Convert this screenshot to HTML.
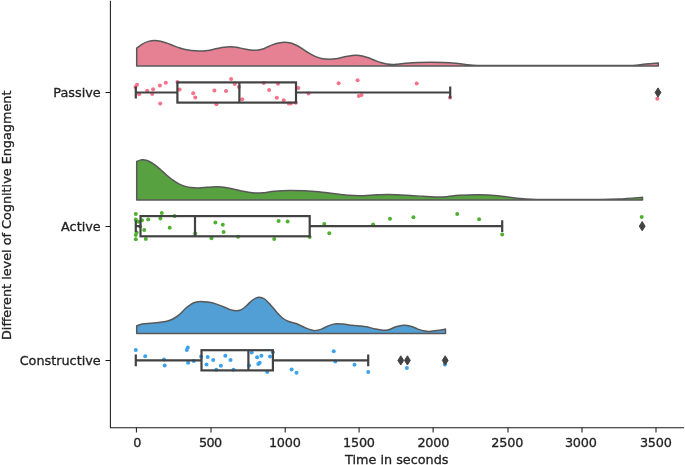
<!DOCTYPE html>
<html lang="en"><head><meta charset="utf-8"><title>Raincloud plot</title>
<style>html,body{margin:0;padding:0;background:#fff}body{width:685px;height:465px;overflow:hidden}svg{display:block}text{font-family:"DejaVu Sans","Liberation Sans",sans-serif;font-size:12.8px;fill:#222;stroke:#222;stroke-width:0.3px}</style></head><body>
<svg width="685" height="465" viewBox="0 0 685 465">
<rect width="685" height="465" fill="#fff"/>
<g id="plot">
<path d="M136.70,48.20 C137.63,47.52 140.35,45.23 142.30,44.10 C144.25,42.97 146.37,42.02 148.40,41.40 C150.43,40.78 152.45,40.43 154.50,40.40 C156.55,40.37 158.65,40.75 160.70,41.20 C162.75,41.65 164.77,42.38 166.80,43.10 C168.83,43.82 170.87,44.72 172.90,45.50 C174.93,46.28 176.95,47.12 179.00,47.80 C181.05,48.48 183.15,49.13 185.20,49.60 C187.25,50.07 188.92,50.37 191.30,50.60 C193.68,50.83 196.77,51.03 199.50,51.00 C202.23,50.97 204.98,50.77 207.70,50.40 C210.42,50.03 213.08,49.33 215.80,48.80 C218.52,48.27 221.62,47.53 224.00,47.20 C226.38,46.87 228.05,46.80 230.10,46.80 C232.15,46.80 233.90,46.83 236.30,47.20 C238.70,47.57 241.78,48.50 244.50,49.00 C247.22,49.50 250.57,50.00 252.60,50.20 C254.63,50.40 255.00,50.40 256.70,50.20 C258.40,50.00 261.23,49.43 262.80,49.00 C264.37,48.57 264.52,48.28 266.10,47.60 C267.68,46.92 270.25,45.65 272.30,44.90 C274.35,44.15 276.37,43.53 278.40,43.10 C280.43,42.67 282.45,42.30 284.50,42.30 C286.55,42.30 288.65,42.57 290.70,43.10 C292.75,43.63 294.77,44.48 296.80,45.50 C298.83,46.52 300.87,47.93 302.90,49.20 C304.93,50.47 306.95,51.90 309.00,53.10 C311.05,54.30 313.15,55.52 315.20,56.40 C317.25,57.28 318.92,57.93 321.30,58.40 C323.68,58.87 326.77,59.20 329.50,59.20 C332.23,59.20 334.98,58.83 337.70,58.40 C340.42,57.97 343.42,57.08 345.80,56.60 C348.18,56.12 350.28,55.72 352.00,55.50 C353.72,55.28 354.40,55.22 356.10,55.30 C357.80,55.38 360.17,55.58 362.20,56.00 C364.23,56.42 366.27,57.10 368.30,57.80 C370.33,58.50 372.35,59.42 374.40,60.20 C376.45,60.98 378.55,61.88 380.60,62.50 C382.65,63.12 384.67,63.57 386.70,63.90 C388.73,64.23 391.23,64.43 392.80,64.50 C394.37,64.57 393.85,64.50 396.10,64.30 C398.35,64.10 402.55,63.60 406.30,63.30 C410.05,63.00 414.50,62.68 418.60,62.50 C422.70,62.32 426.82,62.20 430.90,62.20 C434.98,62.20 439.02,62.32 443.10,62.50 C447.18,62.68 451.30,62.92 455.40,63.30 C459.50,63.68 463.95,64.43 467.70,64.80 C471.45,65.17 474.50,65.38 477.90,65.50 C481.30,65.62 481.08,65.50 488.10,65.50 C495.12,65.50 501.35,65.50 520.00,65.50 C538.65,65.50 583.33,65.50 600.00,65.50 C616.67,65.50 614.52,65.52 620.00,65.50 C625.48,65.48 628.60,65.65 632.90,65.40 C637.20,65.15 641.57,64.38 645.80,64.00 C650.03,63.62 656.22,63.25 658.30,63.10 L658.30,65.95 L136.70,65.95 Z" fill="#e68193" stroke="#585858" stroke-width="1.5" stroke-linejoin="round"/>
<g fill="#f77189"><circle cx="137.0" cy="84.7" r="2"/><circle cx="135.5" cy="87.0" r="2"/><circle cx="139.1" cy="94.2" r="2"/><circle cx="147.2" cy="90.7" r="2"/><circle cx="153.1" cy="89.2" r="2"/><circle cx="152.2" cy="93.9" r="2"/><circle cx="159.9" cy="85.4" r="2"/><circle cx="165.8" cy="82.7" r="2"/><circle cx="160.2" cy="103.4" r="2"/><circle cx="177.4" cy="81.9" r="2"/><circle cx="179.6" cy="89.4" r="2"/><circle cx="193.2" cy="93.2" r="2"/><circle cx="195.3" cy="97.5" r="2"/><circle cx="214.4" cy="90.4" r="2"/><circle cx="226.0" cy="91.1" r="2"/><circle cx="216.4" cy="104.3" r="2"/><circle cx="231.1" cy="79.0" r="2"/><circle cx="234.8" cy="84.0" r="2"/><circle cx="238.9" cy="86.9" r="2"/><circle cx="242.2" cy="99.3" r="2"/><circle cx="263.7" cy="82.9" r="2"/><circle cx="269.1" cy="90.0" r="2"/><circle cx="278.0" cy="83.7" r="2"/><circle cx="276.8" cy="97.8" r="2"/><circle cx="283.7" cy="100.3" r="2"/><circle cx="288.8" cy="103.4" r="2"/><circle cx="290.7" cy="103.4" r="2"/><circle cx="295.8" cy="102.7" r="2"/><circle cx="298.3" cy="87.9" r="2"/><circle cx="308.5" cy="93.6" r="2"/><circle cx="338.6" cy="83.2" r="2"/><circle cx="357.6" cy="80.2" r="2"/><circle cx="358.8" cy="95.9" r="2"/><circle cx="361.5" cy="95.1" r="2"/><circle cx="416.7" cy="83.6" r="2"/><circle cx="450.0" cy="97.5" r="2"/><circle cx="657.3" cy="98.7" r="2"/></g>
<g fill="none" stroke="#424242" stroke-width="2.2">
<path d="M135.8,92.5 H177.4 M296.0,92.5 H450.2"/>
<path d="M135.8,86.6 V98.4 M450.2,86.6 V98.4"/>
<rect x="177.4" y="82.4" width="118.6" height="20.2"/>
<path d="M239.4,82.4 V102.6"/>
</g>
<path d="M658.0,87.9 l2.9,4.6 l-2.9,4.6 l-2.9,-4.6 Z" fill="#424242" stroke="#424242" stroke-width="1" stroke-linejoin="round"/>
<path d="M136.70,161.55 C137.28,161.32 139.10,160.45 140.20,160.15 C141.30,159.85 141.93,159.62 143.30,159.75 C144.67,159.88 146.53,160.13 148.40,160.95 C150.27,161.77 152.45,163.18 154.50,164.65 C156.55,166.12 158.65,167.98 160.70,169.75 C162.75,171.52 164.77,173.52 166.80,175.25 C168.83,176.98 170.87,178.72 172.90,180.15 C174.93,181.58 176.95,182.82 179.00,183.85 C181.05,184.88 183.15,185.73 185.20,186.35 C187.25,186.97 189.27,187.28 191.30,187.55 C193.33,187.82 195.35,187.95 197.40,187.95 C199.45,187.95 201.22,187.72 203.60,187.55 C205.98,187.38 209.32,187.08 211.70,186.95 C214.08,186.82 215.85,186.72 217.90,186.75 C219.95,186.78 221.62,186.82 224.00,187.15 C226.38,187.48 229.47,188.17 232.20,188.75 C234.93,189.33 237.68,190.07 240.40,190.65 C243.12,191.23 245.78,191.85 248.50,192.25 C251.22,192.65 254.32,192.95 256.70,193.05 C259.08,193.15 259.82,193.13 262.80,192.85 C265.78,192.57 270.20,191.75 274.60,191.35 C279.00,190.95 284.33,190.55 289.20,190.45 C294.07,190.35 298.93,190.55 303.80,190.75 C308.67,190.95 313.53,191.20 318.40,191.65 C323.27,192.10 328.13,192.87 333.00,193.45 C337.87,194.03 343.22,194.77 347.60,195.15 C351.98,195.53 354.43,195.80 359.30,195.75 C364.17,195.70 371.93,195.05 376.80,194.85 C381.67,194.65 383.63,194.50 388.50,194.55 C393.37,194.60 400.17,194.85 406.00,195.15 C411.83,195.45 418.63,196.05 423.50,196.35 C428.37,196.65 431.30,196.90 435.20,196.95 C439.10,197.00 442.88,196.92 446.90,196.65 C450.92,196.38 454.03,195.67 459.30,195.35 C464.57,195.03 472.08,194.68 478.50,194.75 C484.92,194.82 491.37,195.17 497.80,195.75 C504.23,196.33 510.68,197.62 517.10,198.25 C523.52,198.88 530.42,199.29 536.30,199.50 C542.18,199.71 541.68,199.50 552.40,199.50 C563.12,199.50 589.37,199.59 600.60,199.50 C611.83,199.41 612.82,199.32 619.80,198.95 C626.78,198.57 638.72,197.53 642.50,197.25 L642.50,199.95 L136.70,199.95 Z" fill="#58a141" stroke="#585858" stroke-width="1.5" stroke-linejoin="round"/>
<g fill="#50b131"><circle cx="135.8" cy="214.1" r="2"/><circle cx="135.8" cy="219.6" r="2"/><circle cx="138.5" cy="221.8" r="2"/><circle cx="142.0" cy="220.3" r="2"/><circle cx="148.2" cy="219.6" r="2"/><circle cx="140.2" cy="226.6" r="2"/><circle cx="144.2" cy="230.1" r="2"/><circle cx="136.6" cy="232.4" r="2"/><circle cx="135.8" cy="234.9" r="2"/><circle cx="135.8" cy="239.3" r="2"/><circle cx="145.8" cy="238.9" r="2"/><circle cx="161.8" cy="213.0" r="2"/><circle cx="160.4" cy="218.6" r="2"/><circle cx="169.7" cy="227.8" r="2"/><circle cx="174.5" cy="216.0" r="2"/><circle cx="195.3" cy="233.5" r="2"/><circle cx="215.4" cy="222.5" r="2"/><circle cx="222.8" cy="224.7" r="2"/><circle cx="223.6" cy="232.0" r="2"/><circle cx="211.5" cy="238.3" r="2"/><circle cx="238.1" cy="236.8" r="2"/><circle cx="274.2" cy="238.9" r="2"/><circle cx="278.6" cy="220.9" r="2"/><circle cx="287.6" cy="221.6" r="2"/><circle cx="309.7" cy="237.1" r="2"/><circle cx="324.3" cy="224.0" r="2"/><circle cx="329.3" cy="233.3" r="2"/><circle cx="373.1" cy="224.6" r="2"/><circle cx="390.0" cy="218.7" r="2"/><circle cx="413.4" cy="217.3" r="2"/><circle cx="457.2" cy="214.1" r="2"/><circle cx="479.1" cy="219.3" r="2"/><circle cx="502.2" cy="234.5" r="2"/><circle cx="641.7" cy="217.0" r="2"/></g>
<g fill="none" stroke="#424242" stroke-width="2.2">
<path d="M135.8,226.2 H140.5 M309.7,226.2 H502.2"/>
<path d="M135.8,220.2 V232.1 M502.2,220.2 V232.1"/>
<rect x="140.5" y="216.1" width="169.2" height="20.2"/>
<path d="M195.0,216.1 V236.2"/>
</g>
<path d="M642.2,221.6 l2.9,4.6 l-2.9,4.6 l-2.9,-4.6 Z" fill="#424242" stroke="#424242" stroke-width="1" stroke-linejoin="round"/>
<path d="M136.70,325.80 C137.63,325.52 140.02,324.52 142.30,324.10 C144.58,323.68 147.68,323.57 150.40,323.30 C153.12,323.03 155.87,322.83 158.60,322.50 C161.33,322.17 164.42,321.88 166.80,321.30 C169.18,320.72 170.87,320.07 172.90,319.00 C174.93,317.93 176.95,316.60 179.00,314.90 C181.05,313.20 183.15,310.60 185.20,308.80 C187.25,307.00 189.60,305.18 191.30,304.10 C193.00,303.02 193.87,302.75 195.40,302.30 C196.93,301.85 198.45,301.43 200.50,301.40 C202.55,301.37 205.15,301.68 207.70,302.10 C210.25,302.52 213.08,303.08 215.80,303.90 C218.52,304.72 221.62,306.05 224.00,307.00 C226.38,307.95 228.05,308.97 230.10,309.60 C232.15,310.23 234.42,310.80 236.30,310.80 C238.18,310.80 239.70,310.45 241.40,309.60 C243.10,308.75 244.63,307.30 246.50,305.70 C248.37,304.10 250.55,301.42 252.60,300.00 C254.65,298.58 256.80,297.37 258.80,297.20 C260.80,297.03 262.60,297.67 264.60,299.00 C266.60,300.33 268.77,303.00 270.80,305.20 C272.83,307.40 274.85,310.07 276.80,312.20 C278.75,314.33 280.63,316.50 282.50,318.00 C284.37,319.50 285.63,320.23 288.00,321.20 C290.37,322.17 293.78,322.68 296.70,323.80 C299.62,324.92 303.07,326.87 305.50,327.90 C307.93,328.93 309.60,329.55 311.30,330.00 C313.00,330.45 314.00,330.75 315.70,330.60 C317.40,330.45 319.32,329.93 321.50,329.10 C323.68,328.27 326.37,326.48 328.80,325.60 C331.23,324.72 333.67,324.05 336.10,323.80 C338.53,323.55 340.72,323.85 343.40,324.10 C346.08,324.35 349.27,325.00 352.20,325.30 C355.13,325.60 358.57,325.65 361.00,325.90 C363.43,326.15 364.38,326.27 366.80,326.80 C369.22,327.33 372.83,328.52 375.50,329.10 C378.17,329.68 380.60,330.20 382.80,330.30 C385.00,330.40 386.50,330.28 388.70,329.70 C390.90,329.12 393.57,327.53 396.00,326.80 C398.43,326.07 400.87,325.40 403.30,325.30 C405.73,325.20 408.17,325.57 410.60,326.20 C413.03,326.83 415.47,328.28 417.90,329.10 C420.33,329.92 423.25,330.72 425.20,331.10 C427.15,331.48 427.65,331.48 429.60,331.40 C431.55,331.32 434.25,330.98 436.90,330.60 C439.55,330.22 444.07,329.35 445.50,329.10 L445.50,333.50 L136.70,333.50 Z" fill="#529fd6" stroke="#585858" stroke-width="1.5" stroke-linejoin="round"/>
<g fill="#3ba3ec"><circle cx="135.8" cy="350.0" r="2"/><circle cx="145.2" cy="356.2" r="2"/><circle cx="164.0" cy="359.6" r="2"/><circle cx="164.7" cy="365.4" r="2"/><circle cx="187.8" cy="347.5" r="2"/><circle cx="186.8" cy="350.1" r="2"/><circle cx="188.1" cy="362.8" r="2"/><circle cx="193.8" cy="360.9" r="2"/><circle cx="201.1" cy="356.4" r="2"/><circle cx="207.7" cy="357.1" r="2"/><circle cx="213.2" cy="359.9" r="2"/><circle cx="206.5" cy="364.6" r="2"/><circle cx="225.3" cy="355.7" r="2"/><circle cx="220.9" cy="365.7" r="2"/><circle cx="216.3" cy="369.8" r="2"/><circle cx="230.5" cy="359.9" r="2"/><circle cx="233.5" cy="369.7" r="2"/><circle cx="249.1" cy="365.4" r="2"/><circle cx="251.7" cy="352.6" r="2"/><circle cx="257.1" cy="357.3" r="2"/><circle cx="261.4" cy="355.7" r="2"/><circle cx="258.3" cy="364.0" r="2"/><circle cx="259.7" cy="362.8" r="2"/><circle cx="270.0" cy="356.5" r="2"/><circle cx="272.9" cy="352.2" r="2"/><circle cx="267.2" cy="371.9" r="2"/><circle cx="291.6" cy="369.4" r="2"/><circle cx="296.5" cy="372.7" r="2"/><circle cx="333.7" cy="351.3" r="2"/><circle cx="335.3" cy="361.5" r="2"/><circle cx="354.5" cy="364.8" r="2"/><circle cx="368.2" cy="372.1" r="2"/><circle cx="406.9" cy="368.0" r="2"/><circle cx="444.9" cy="364.6" r="2"/></g>
<g fill="none" stroke="#424242" stroke-width="2.2">
<path d="M135.8,360.4 H201.5 M272.9,360.4 H368.2"/>
<path d="M135.8,354.5 V366.2 M368.2,354.5 V366.2"/>
<rect x="201.5" y="350.2" width="71.4" height="20.2"/>
<path d="M248.4,350.2 V370.5"/>
</g>
<path d="M400.8,355.8 l2.9,4.6 l-2.9,4.6 l-2.9,-4.6 Z" fill="#424242" stroke="#424242" stroke-width="1" stroke-linejoin="round"/>
<path d="M407.4,355.8 l2.9,4.6 l-2.9,4.6 l-2.9,-4.6 Z" fill="#424242" stroke="#424242" stroke-width="1" stroke-linejoin="round"/>
<path d="M445.2,355.8 l2.9,4.6 l-2.9,4.6 l-2.9,-4.6 Z" fill="#424242" stroke="#424242" stroke-width="1" stroke-linejoin="round"/>
<g stroke="#1a1a1a" stroke-width="1.05" fill="none">
<path d="M110.4,0.8 V427.7 H684"/>
<path d="M136.4,427.7 v4.9 M211.0,427.7 v4.9 M285.2,427.7 v4.9 M359.1,427.7 v4.9 M433.1,427.7 v4.9 M508.0,427.7 v4.9 M582.0,427.7 v4.9 M656.0,427.7 v4.9"/>
<path d="M110.4,92.5 h-4.9 M110.4,226.5 h-4.9 M110.4,360.4 h-4.9"/>
</g>
</g>
<g id="labels">
<text x="137.30" y="446.7" text-anchor="middle">0</text>
<text x="210.50" y="446.7" text-anchor="middle" textLength="23.25" lengthAdjust="spacing">500</text>
<text x="284.90" y="446.7" text-anchor="middle" textLength="32.00" lengthAdjust="spacing">1000</text>
<text x="359.00" y="446.7" text-anchor="middle" textLength="32.00" lengthAdjust="spacing">1500</text>
<text x="433.40" y="446.7" text-anchor="middle" textLength="32.00" lengthAdjust="spacing">2000</text>
<text x="507.30" y="446.7" text-anchor="middle" textLength="32.00" lengthAdjust="spacing">2500</text>
<text x="580.90" y="446.7" text-anchor="middle" textLength="32.00" lengthAdjust="spacing">3000</text>
<text x="655.90" y="446.7" text-anchor="middle" textLength="32.00" lengthAdjust="spacing">3500</text>
<text x="100.7" y="97.3" text-anchor="end">Passive</text>
<text x="100.7" y="231.3" text-anchor="end">Active</text>
<text x="100.7" y="365.2" text-anchor="end">Constructive</text>
<text x="396.8" y="463.8" text-anchor="middle">Time in seconds</text>
<text transform="translate(11.4,215.3) rotate(-90)" text-anchor="middle">Different level of Cognitive Engagment</text>
</g>
</svg></body></html>
